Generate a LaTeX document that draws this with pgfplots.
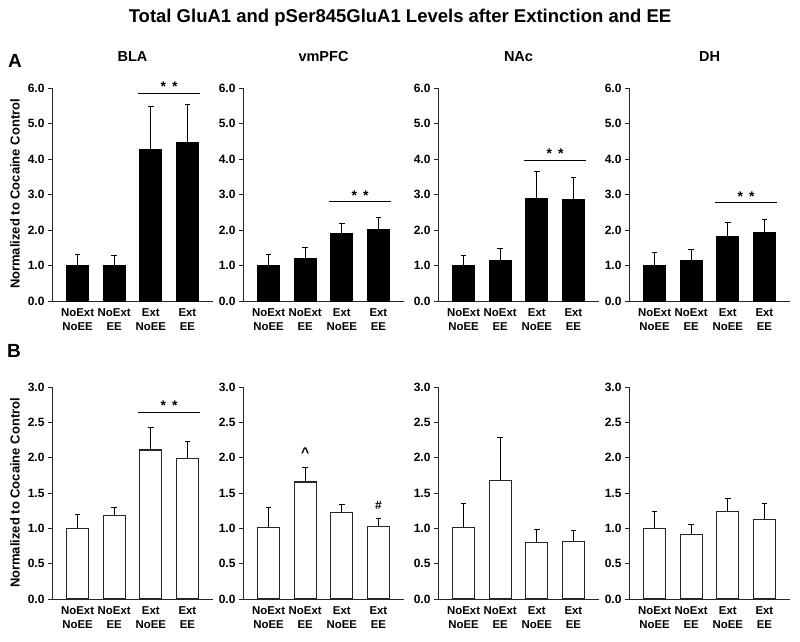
\documentclass[border=0pt]{standalone}
\usepackage{pgfplots}
\pgfplotsset{compat=1.18}
\usepackage{pgfplotstable}
\usepackage{fontspec}
\setmainfont{Liberation Sans}

% x = group index, y = mean, e = upper error
\pgfplotstableread{
x y e
0 1.00 0.30
1 1.00 0.28
2 4.28 1.20
3 4.47 1.07
}\AblA
\pgfplotstableread{
x y e
0 1.00 0.31
1 1.21 0.30
2 1.91 0.27
3 2.01 0.34
}\AvmA
\pgfplotstableread{
x y e
0 1.00 0.27
1 1.13 0.35
2 2.90 0.74
3 2.87 0.61
}\AnaA
\pgfplotstableread{
x y e
0 1.00 0.36
1 1.13 0.33
2 1.83 0.37
3 1.92 0.37
}\AdhA
\pgfplotstableread{
x y e
0 1.00 0.20
1 1.18 0.12
2 2.11 0.32
3 1.99 0.24
}\BblA
\pgfplotstableread{
x y e
0 1.01 0.29
1 1.655 0.20
2 1.22 0.115
3 1.03 0.11
}\BvmA
\pgfplotstableread{
x y e
0 1.01 0.345
1 1.68 0.61
2 0.80 0.19
3 0.815 0.15
}\BnaA
\pgfplotstableread{
x y e
0 1.00 0.245
1 0.91 0.15
2 1.24 0.18
3 1.13 0.22
}\BdhA

\pgfplotsset{
  panel/.style={
    scale only axis, width=161pt,
    xmin=-0.7, xmax=3.7, ymin=0,
    axis x line*=bottom, axis y line*=left,
    axis line style={line width=1pt, color=black!85, -},
    xtick={0,1,2,3},
    xticklabels={{NoExt\\NoEE},{NoExt\\EE},{Ext\\NoEE},{Ext\\EE}},
    xticklabel style={align=center, font=\fontsize{11.4}{14.5}\selectfont\bfseries},
    xtick style={draw=none},
    ytick style={line width=1pt, color=black!85},
    tick align=outside, major tick length=4pt,
    yticklabel style={font=\fontsize{12}{13}\selectfont\bfseries,
      /pgf/number format/fixed, /pgf/number format/fixed zerofill,
      /pgf/number format/precision=1, /pgf/number format/assume math mode=true},
    title style={font=\fontsize{14.5}{16}\selectfont\bfseries, at={(0.5,1)}, anchor=base, yshift=21pt},
    clip=false,
  },
  toprow/.style={panel, height=213pt, ymax=6, ytick={0,1,...,6}},
  botrow/.style={panel, height=212pt, ymax=3, ytick={0,0.5,...,3}},
  barsA/.style={ybar, bar width=22pt, fill=black, draw=black, line width=1pt,
    error bars/.cd, y dir=plus, y explicit,
    error bar style={line width=1pt, black},
    error mark options={rotate=90, mark size=2.8pt, line width=1pt, black}},
  barsB/.style={ybar, bar width=22pt, fill=white, draw=black!85, line width=1.3pt,
    error bars/.cd, y dir=plus, y explicit,
    error bar style={line width=1pt, black},
    error mark options={rotate=90, mark size=2.8pt, line width=1pt, black}},
  sig/.style={black, line width=1pt, mark=none},
}
\newcommand{\stars}[1]{\node[anchor=base, yshift=1.5pt, font=\fontsize{14}{16}\selectfont\bfseries] at (axis cs:2.5,#1) {*\hspace{6pt}*};}

\begin{document}
\begin{tikzpicture}
\useasboundingbox (0,0) rectangle (800pt,-642pt);

\node[font=\fontsize{18.5}{21}\selectfont\bfseries] at (400pt,-18pt) {Total GluA1 and pSer845GluA1 Levels after Extinction and EE};
\node[font=\fontsize{19}{21}\selectfont\bfseries] at (15pt,-61pt) {A};
\node[font=\fontsize{19}{21}\selectfont\bfseries] at (14pt,-351pt) {B};
\node[rotate=90, font=\fontsize{13}{15}\selectfont\bfseries] at (15pt,-194pt) {Normalized to Cocaine Control};
\node[rotate=90, font=\fontsize{13}{15}\selectfont\bfseries] at (15pt,-493pt) {Normalized to Cocaine Control};

% ---- Row A ----
\begin{axis}[toprow, at={(52pt,-301pt)}, anchor=south west, title={BLA}]
\addplot[barsA] table[x=x, y=y, y error=e] {\AblA};
\addplot[sig] coordinates {(1.66,5.85) (3.345,5.85)};
\stars{5.85}
\end{axis}
\begin{axis}[toprow, at={(243pt,-301pt)}, anchor=south west, title={vmPFC}]
\addplot[barsA] table[x=x, y=y, y error=e] {\AvmA};
\addplot[sig] coordinates {(1.66,2.80) (3.345,2.80)};
\stars{2.80}
\end{axis}
\begin{axis}[toprow, at={(438pt,-301pt)}, anchor=south west, title={NAc}]
\addplot[barsA] table[x=x, y=y, y error=e] {\AnaA};
\addplot[sig] coordinates {(1.66,3.96) (3.345,3.96)};
\stars{3.96}
\end{axis}
\begin{axis}[toprow, at={(629pt,-301pt)}, anchor=south west, title={DH}]
\addplot[barsA] table[x=x, y=y, y error=e] {\AdhA};
\addplot[sig] coordinates {(1.66,2.77) (3.345,2.77)};
\stars{2.77}
\end{axis}

% ---- Row B ----
\begin{axis}[botrow, at={(52pt,-599pt)}, anchor=south west]
\addplot[barsB] table[x=x, y=y, y error=e] {\BblA};
\addplot[sig] coordinates {(1.66,2.64) (3.345,2.64)};
\stars{2.64}
\end{axis}
\begin{axis}[botrow, at={(243pt,-599pt)}, anchor=south west]
\addplot[barsB] table[x=x, y=y, y error=e] {\BvmA};
\node[anchor=base, font=\fontsize{14}{16}\selectfont\bfseries] at (axis cs:1,2.0) {\^{}};
\node[anchor=base, font=\fontsize{12}{14}\selectfont\bfseries] at (axis cs:3,1.27) {\#};
\end{axis}
\begin{axis}[botrow, at={(438pt,-599pt)}, anchor=south west]
\addplot[barsB] table[x=x, y=y, y error=e] {\BnaA};
\end{axis}
\begin{axis}[botrow, at={(629pt,-599pt)}, anchor=south west]
\addplot[barsB] table[x=x, y=y, y error=e] {\BdhA};
\end{axis}
\end{tikzpicture}
\end{document}
